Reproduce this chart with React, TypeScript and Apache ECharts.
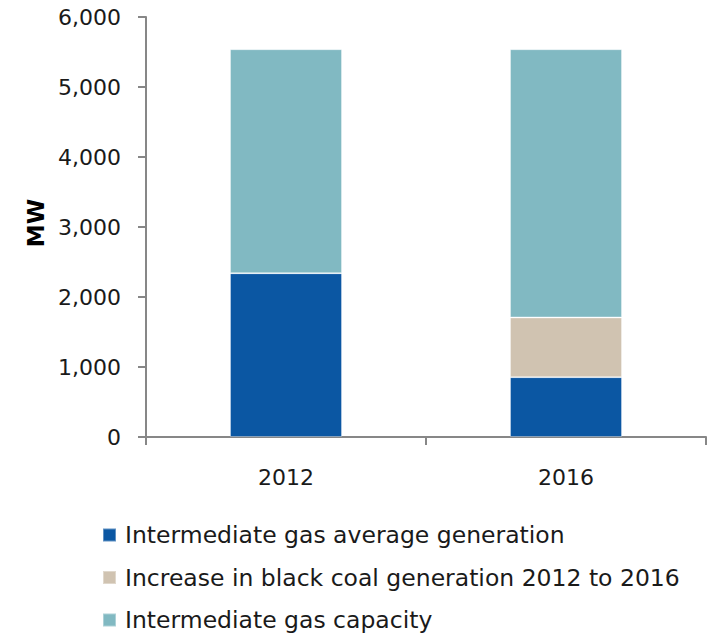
import React, { useEffect, useRef } from "react";
import * as echarts from "echarts";

const categories = ["2012", "2016"];
const gasGeneration = [2340, 855];
const coalIncrease = [0, 853];
const gasCapacity = [3200, 3832];
const seriesNames = [
  "Intermediate gas average generation",
  "Increase in black coal generation 2012 to 2016",
  "Intermediate gas capacity",
];

export default function App() {
  const ref = useRef<HTMLDivElement>(null);
  useEffect(() => {
    const chart = echarts.init(ref.current!, null, { renderer: "svg" });
    const font = "DejaVu Sans, Verdana, sans-serif";
    const colors = ["#0B57A3", "#D0C3B1", "#81B9C2"];
    const datas = [gasGeneration, coalIncrease, gasCapacity];
    chart.setOption({
      animation: false,
      color: colors,
      grid: { left: 146, right: 18, top: 17, bottom: 198 },
      legend: {
        orient: "vertical",
        left: 102,
        top: 523,
        padding: 0,
        height: 112,
        itemWidth: 13,
        itemHeight: 13,
        itemGap: 18.5,
        icon: "rect",
        textStyle: { fontFamily: font, fontSize: 23.5, color: "#1a1a1a", padding: [0, 0, 0, 4] },
        data: seriesNames,
      },
      xAxis: {
        type: "category",
        data: categories,
        axisLine: { lineStyle: { color: "#878787", width: 2 } },
        axisTick: { show: true, length: 8, lineStyle: { color: "#878787", width: 2 } },
        axisLabel: { fontFamily: font, fontSize: 22, color: "#1a1a1a", margin: 29 },
      },
      yAxis: {
        type: "value",
        min: 0,
        max: 6000,
        interval: 1000,
        name: "MW",
        nameLocation: "middle",
        nameGap: 98,
        nameTextStyle: { fontFamily: font, fontSize: 23, fontWeight: "bold", color: "#000", padding: [0, 0, 0, 8] },
        axisLine: { show: true, lineStyle: { color: "#878787", width: 2 } },
        axisTick: { show: true, length: 8, lineStyle: { color: "#878787", width: 2 } },
        splitLine: { show: false },
        axisLabel: {
          fontFamily: font,
          fontSize: 22,
          color: "#1a1a1a",
          margin: 25,
          formatter: (v: number) => v.toLocaleString("en-US"),
        },
      },
      series: seriesNames.map((name, i) => ({
        name,
        type: "bar",
        stack: "total",
        barWidth: "40%",
        data: datas[i],
        itemStyle: { color: colors[i], borderColor: "rgba(255,255,255,0.35)", borderWidth: 1 },
      })),
    });
    return () => chart.dispose();
  }, []);
  return <div ref={ref} style={{ width: 724, height: 635, position: "absolute", left: 0, top: 0 }} />;
}
